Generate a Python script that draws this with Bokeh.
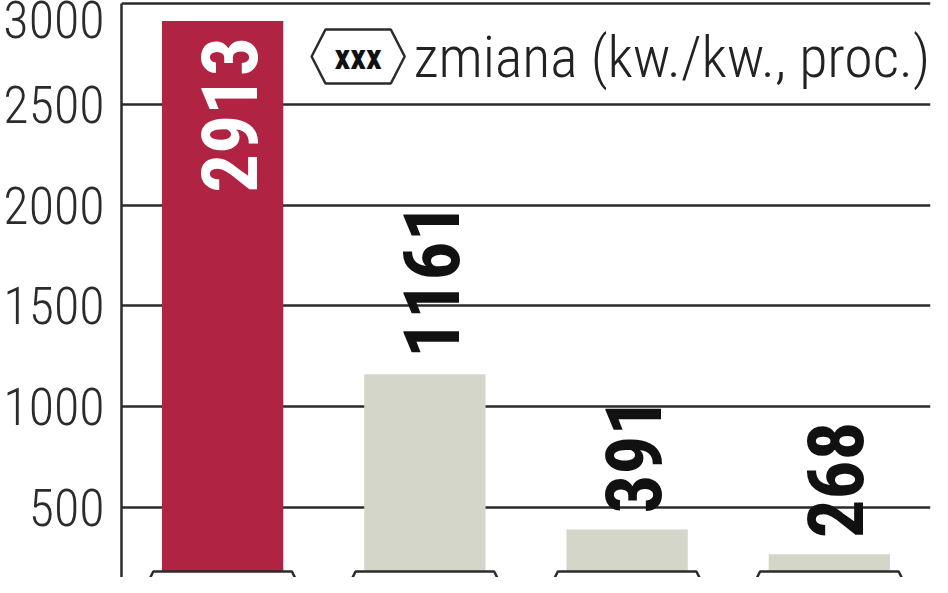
import math
from bokeh.plotting import figure
from bokeh.models import ColumnDataSource, Range1d, FixedTicker
from bokeh.core.properties import value
from bokeh.embed import file_html
from bokeh.resources import INLINE

# data
bar_ids = [0, 1, 2, 3]
bar_values = [2913, 1161, 391, 268]
bar_colors = ["#b12342", "#d5d6ca", "#d5d6ca", "#d5d6ca"]
y_ticks = [500, 1000, 1500, 2000, 2500, 3000]
legend_badge = "xxx"
legend_text = "zmiana (kw./kw., proc.)"

NARROW = "'Roboto Condensed', 'Liberation Sans Narrow', 'DejaVu Sans Condensed', sans-serif"
THIN = "'Roboto Condensed Light', " + NARROW
INK = "#2b2b2b"

W, H = 932, 577
LEFT, RIGHT = 113, 2
y_lo, y_hi = 153, 3015
x_lo, x_hi = -0.5, 3.5
px_x = (W - LEFT - RIGHT) / (x_hi - x_lo)
px_y = H / (y_hi - y_lo)


# page pixel -> data helpers for the decorations
def dx(page_x):
    return x_lo + (page_x - 8 - LEFT) / px_x


def dy(page_y):
    return y_hi - (page_y - 8) / px_y


p = figure(width=W, height=H, title=None, toolbar_location=None,
           output_backend="svg", x_range=Range1d(x_lo, x_hi),
           y_range=Range1d(y_lo, y_hi), x_axis_location=None,
           min_border_left=LEFT, min_border_right=RIGHT,
           min_border_top=0, min_border_bottom=0)
p.outline_line_color = None
p.background_fill_color = "white"
p.xgrid.visible = False
p.ygrid.grid_line_color = INK
p.ygrid.grid_line_width = 2.5
p.ygrid.ticker = FixedTicker(ticks=y_ticks)

ax = p.yaxis[0]
ax.ticker = FixedTicker(ticks=y_ticks)
ax.bounds = (0, 3000)
ax.axis_line_color = INK
ax.axis_line_width = 2.5
ax.major_tick_line_color = None
ax.minor_tick_line_color = None
ax.major_label_standoff = 11
ax.major_label_text_font = THIN
ax.major_label_text_font_size = "52px"
ax.major_label_text_color = "#2b2b2b"

src = ColumnDataSource(dict(x=bar_ids, top=bar_values, color=bar_colors))
p.vbar(x="x", top="top", bottom=0, width=0.6, fill_color="color",
       line_color=None, source=src)

# value labels, rotated; the tallest one sits inside its bar
inside = [v > max(bar_values) / 2 for v in bar_values]
lab_in = ColumnDataSource(dict(
    x=[i for i, k in zip(bar_ids, inside) if k],
    y=[v for v, k in zip(bar_values, inside) if k],
    t=[str(v) for v, k in zip(bar_values, inside) if k]))
lab_out = ColumnDataSource(dict(
    x=[i for i, k in zip(bar_ids, inside) if not k],
    y=[v for v, k in zip(bar_values, inside) if not k],
    t=[str(v) for v, k in zip(bar_values, inside) if not k]))
p.text(x="x", y="y", text="t", source=lab_in, angle=math.pi / 2,
       text_align="right", text_baseline="middle", x_offset=6, y_offset=16,
       text_font=value(NARROW), text_font_style="bold",
       text_font_size="77px", text_color="white")
p.text(x="x", y="y", text="t", source=lab_out, angle=math.pi / 2,
       text_align="left", text_baseline="middle", x_offset=6, y_offset=-16,
       text_font=value(NARROW), text_font_style="bold",
       text_font_size="77px", text_color="#111111")

# badges under the bars (cut by the frame edge)
bxs, bys = [], []
top_val = dy(579)
for i in bar_ids:
    c = 8 + LEFT + (i - x_lo) * px_x
    bxs.append([dx(c - 70), dx(c + 70), dx(c + 84), dx(c + 70), dx(c - 70), dx(c - 84)])
    bys.append([top_val, top_val, top_val - 28 / px_y, top_val - 56 / px_y,
                top_val - 56 / px_y, top_val - 28 / px_y])
p.patches(bxs, bys, fill_color="white", line_color=INK, line_width=2.5)

# legend badge
hx = [313, 327, 393, 407, 393, 327]
hy = [64, 37, 37, 64, 91, 91]
p.patch([dx(v) for v in hx], [dy(v) for v in hy], fill_color="white",
        line_color=INK, line_width=2.5)
p.text(x=[dx(360)], y=[dy(65)], text=[legend_badge], text_align="center",
       text_baseline="middle", text_font=value(NARROW),
       text_font_style="bold", text_font_size="35px", text_color="#111111")
p.text(x=[dx(416)], y=[dy(64)], text=[legend_text], text_align="left",
       text_baseline="middle", text_font=value(THIN),
       text_font_size="58px", text_color="#222222")

open("out.html", "w").write(file_html(p, INLINE))
